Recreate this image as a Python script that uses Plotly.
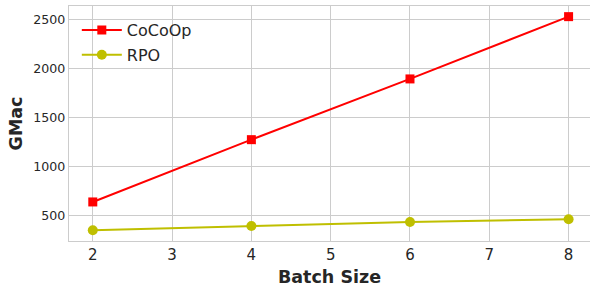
import plotly.graph_objects as go

batch_sizes = [2, 4, 6, 8]
cocoop_gmac = [636, 1274, 1896, 2534]
rpo_gmac = [346, 390, 431, 459]
x_ticks = [2, 3, 4, 5, 6, 7, 8]
y_ticks = [500, 1000, 1500, 2000, 2500]

FONT = "DejaVu Sans"
TXT = "#262626"
GRID = "#cccccc"

fig = go.Figure()
fig.add_trace(go.Scatter(
    x=batch_sizes, y=cocoop_gmac, name="CoCoOp", mode="lines+markers",
    legendgroup="a",
    line=dict(color="#ff0000", width=2),
    marker=dict(symbol="square", size=9, color="#ff0000"),
))
fig.add_trace(go.Scatter(
    x=batch_sizes, y=rpo_gmac, name="RPO", mode="lines+markers",
    legendgroup="b",
    line=dict(color="#bfbf00", width=2),
    marker=dict(symbol="circle", size=10, color="#bfbf00"),
))

fig.update_layout(
    width=590, height=287,
    margin=dict(l=69, r=0, t=6, b=46, autoexpand=False),
    paper_bgcolor="white", plot_bgcolor="white",
    font=dict(family=FONT, color=TXT),
    legend=dict(x=0.015, y=0.97, xanchor="left", yanchor="top",
                font=dict(size=16, family=FONT, color=TXT),
                bgcolor="rgba(0,0,0,0)", traceorder="grouped",
                tracegroupgap=1, itemwidth=40),
    showlegend=True,
)
fig.update_xaxes(
    range=[1.7, 8.27], tickvals=x_ticks, ticktext=[str(v) for v in x_ticks],
    showgrid=True, gridcolor=GRID, gridwidth=1,
    showline=True, linecolor=GRID, linewidth=1.2, mirror=True,
    zeroline=False, ticks="", tickfont=dict(size=15, color=TXT),
    automargin=False, ticklabelstandoff=0,
    title=dict(text="<b>Batch Size</b>", font=dict(size=17.5, color=TXT), standoff=7),
)
fig.update_yaxes(
    range=[236, 2643], tickvals=y_ticks, ticktext=[str(v) for v in y_ticks],
    showgrid=True, gridcolor=GRID, gridwidth=1,
    showline=True, linecolor=GRID, linewidth=1.2, mirror=True,
    zeroline=False, ticks="", tickfont=dict(size=12.6, color=TXT),
    automargin=False,
    title=dict(text="<b>GMac</b>", font=dict(size=17.5, color=TXT), standoff=6),
)

fig.write_html(
    "out.html",
    config={"displayModeBar": False},
    post_script="document.body.style.margin='0';document.body.style.padding='0';",
)
